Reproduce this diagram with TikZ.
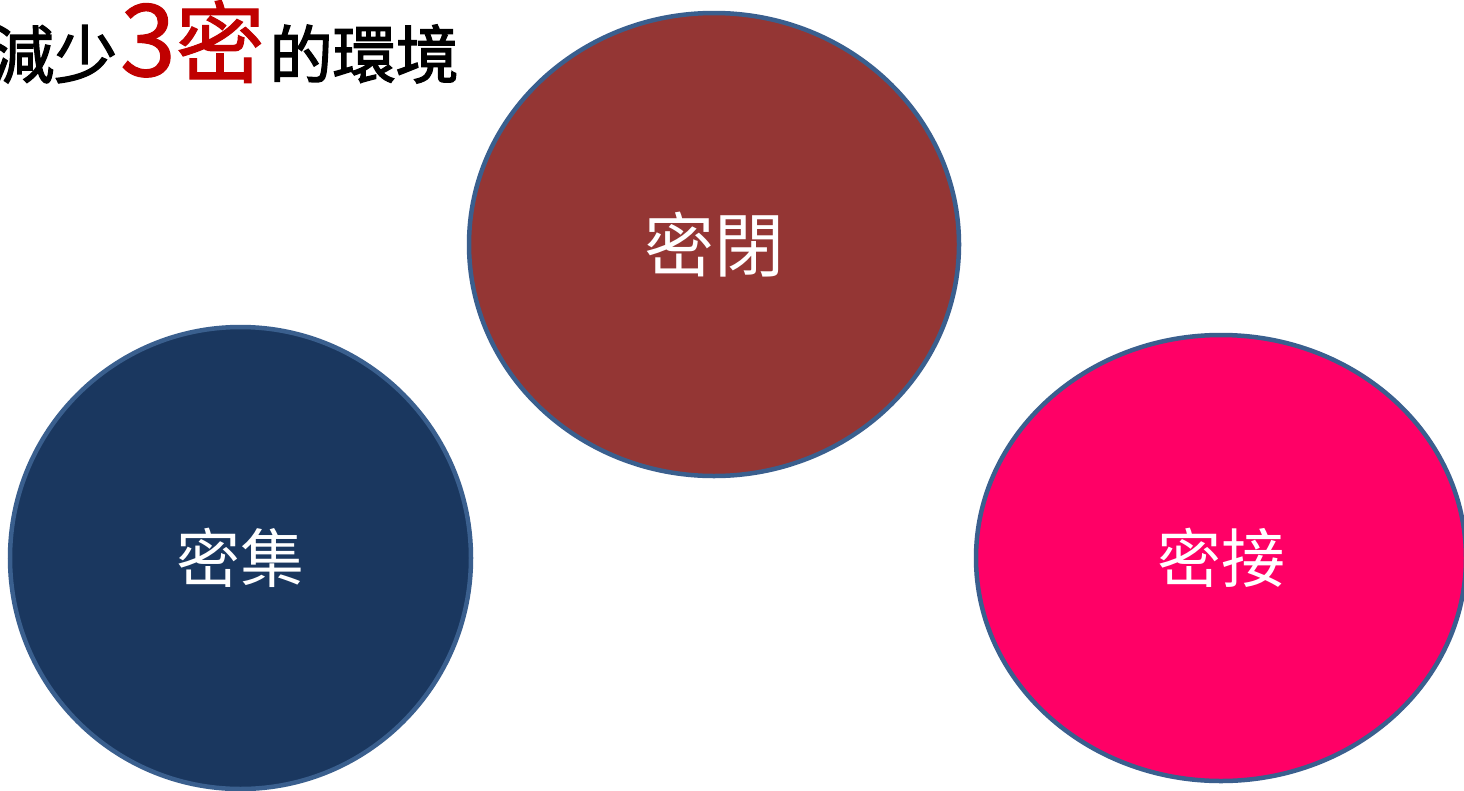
\documentclass[tikz,border=0pt]{standalone}
\usepackage{fontspec}
\usetikzlibrary{shapes.geometric}
\newfontfamily\cjk{Noto Sans CJK TC}
\newfontfamily\cjkhead{Noto Sans CJK TC}[FakeBold=2.2]
\newfontfamily\cjkred{Noto Sans CJK TC}[FakeBold=1.2]
\definecolor{rimblue}{HTML}{3A5F8E}
\definecolor{fillred}{HTML}{943634}
\definecolor{fillnavy}{HTML}{1A375F}
\definecolor{fillpink}{HTML}{FF0066}
\definecolor{titlered}{HTML}{C00000}
\tikzset{
  bubble/.style={ellipse, draw=rimblue, line width=4.5pt, inner sep=0pt, text=white,
    font=\cjk\fontsize{64}{64}\selectfont},
}
\begin{document}
\begin{tikzpicture}[x=1pt,y=-1pt]
\useasboundingbox (0,0) rectangle (1464,790);
\fill[white] (0,0) rectangle (1464,790);
\node[bubble, fill=fillred, minimum width=490pt, minimum height=463pt] (closed) at (714,244.5) {\fontsize{70}{70}\selectfont 密閉};
\node[bubble, fill=fillnavy, minimum width=461pt, minimum height=462pt] (crowd) at (240.5,558) {密集};
\node[bubble, fill=fillpink, minimum width=490pt, minimum height=446pt] (contact) at (1221,558) {密接};
\node[anchor=base west, inner sep=0pt, font=\cjkhead] (title) at (-9,78)
  {\fontsize{63}{63}\selectfont 減少\hspace{3pt}\raisebox{2pt}{\cjkred\color{titlered}\fontsize{100}{100}\selectfont 3\fontsize{89}{89}\selectfont 密}\hspace{5pt}的環境};
\end{tikzpicture}
\end{document}
